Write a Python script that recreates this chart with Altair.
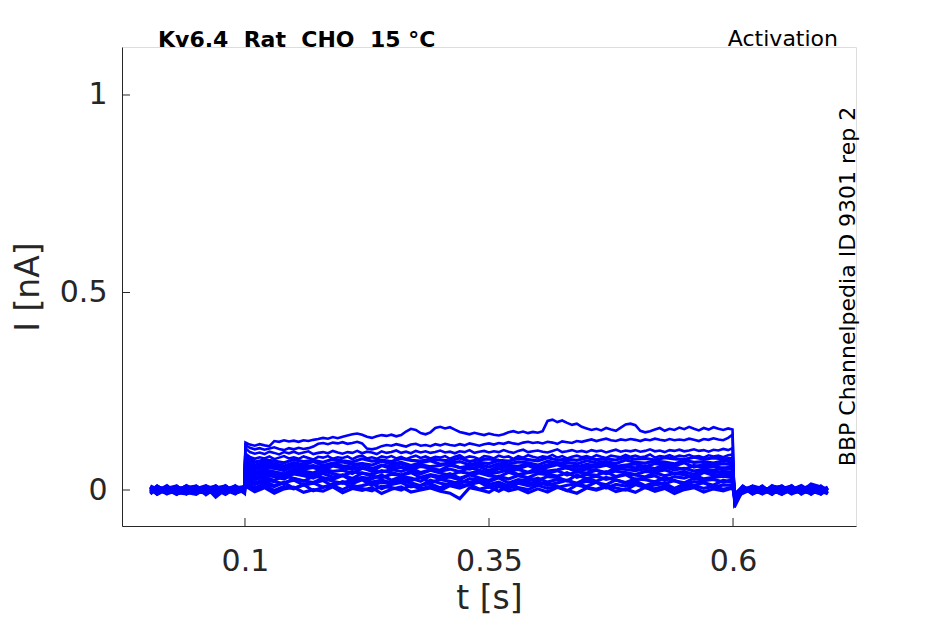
import altair as alt
import pandas as pd

# ---- time bases (s) ----
T_PRE = [0.003, 0.01, 0.02, 0.03, 0.04, 0.05, 0.06, 0.07, 0.08, 0.09, 0.0995]
T_STEP = [0.1005, 0.11, 0.12, 0.13, 0.14, 0.15, 0.16, 0.17, 0.18, 0.19,
          0.20, 0.21, 0.22, 0.23, 0.24, 0.25, 0.26, 0.27, 0.28, 0.29,
          0.30, 0.31, 0.32, 0.33, 0.34, 0.35, 0.36, 0.37, 0.38, 0.39,
          0.40, 0.41, 0.42, 0.43, 0.44, 0.45, 0.46, 0.47, 0.48, 0.49,
          0.50, 0.51, 0.52, 0.53, 0.54, 0.55, 0.56, 0.57, 0.58, 0.59,
          0.5995]
T_STEP_F = [0.1005, 0.105, 0.11, 0.115, 0.12, 0.125, 0.13, 0.135, 0.14, 0.145,
            0.15, 0.155, 0.16, 0.165, 0.17, 0.175, 0.18, 0.185, 0.19, 0.195,
            0.20, 0.205, 0.21, 0.215, 0.22, 0.225, 0.23, 0.235, 0.24, 0.245,
            0.25, 0.255, 0.26, 0.265, 0.27, 0.275, 0.28, 0.285, 0.29, 0.295,
            0.30, 0.305, 0.31, 0.315, 0.32, 0.325, 0.33, 0.335, 0.34, 0.345,
            0.35, 0.355, 0.36, 0.365, 0.37, 0.375, 0.38, 0.385, 0.39, 0.395,
            0.40, 0.405, 0.41, 0.415, 0.42, 0.425, 0.43, 0.435, 0.44, 0.445,
            0.45, 0.455, 0.46, 0.465, 0.47, 0.475, 0.48, 0.485, 0.49, 0.495,
            0.50, 0.505, 0.51, 0.515, 0.52, 0.525, 0.53, 0.535, 0.54, 0.545,
            0.55, 0.555, 0.56, 0.565, 0.57, 0.575, 0.58, 0.585, 0.59, 0.595,
            0.5995]
T_POST = [0.6015, 0.61, 0.62, 0.63, 0.64, 0.65, 0.66, 0.67, 0.68, 0.69, 0.697]

# ---- currents in pA (17 sweeps) ----
PRE_PA = [
    [6, -9, 4, -3, 8, -7, 2, 9, -5, 1, 7],
    [-7, 3, -10, 7, -1, 5, -8, 10, -4, 6, -6],
    [9, -5, 1, -11, 6, 10, -3, -7, 4, -9, 3],
    [-2, 10, -6, 5, -9, 3, 11, -5, 0, -10, 8],
    [1, -10, 7, 3, -6, 9, -12, 5, 10, -7, -2],
    [10, 2, -8, -4, 11, -2, 7, -10, 3, 9, -5],
    [-8, 6, 4, -10, 0, -6, 10, 2, -11, 5, 9],
    [3, -3, 11, -7, -10, 5, 1, -8, 7, -4, 10],
    [-5, 9, -2, 10, -6, -11, 4, 7, -3, 11, -8],
    [7, -11, 2, 1, 9, -5, -7, 10, -9, 3, 0],
    [-10, 5, -4, 7, 2, 10, -8, -2, 9, -6, 4],
    [0, 7, -9, -2, 10, -5, 8, -18, 2, 5, -7],
    [5, -7, 9, -10, -2, 6, 3, -5, 11, -8, 1],
    [-6, 1, 5, 11, -8, 2, -10, 7, -4, 10, 3],
    [8, -2, -7, 4, -11, 0, 6, -9, 10, -3, -5],
    [-3, 11, -5, -8, 5, 8, -6, 1, -10, 7, 2],
    [2, -8, 7, -5, 10, -10, 4, 11, -7, 0, -3],
]

# sweeps 1-13 (dense band), sampled on T_STEP
BAND_STEP_PA = [
    [10, -4, 6, -8, 3, 7, -6, 1, -3, 8,
     -7, 4, -1, 6, -9, 2, 8, -5, 0, 5,
     -3, -8, -22, 6, 1, -6, 9, -2, 4, -7,
     3, -5, 7, -1, -8, 5, 0, 8, -4, 2,
     -6, 7, -3, 4, -9, 1, 6, -5, 3, -2,
     5],
    [16, 0, 12, -1, 9, 3, 14, -2, 7, 11,
     1, 13, 4, -2, 10, 6, 0, 12, 3, 9,
     -1, 11, 5, 14, 2, 8, -3, 10, 6, 1,
     12, 4, 9, -2, 13, 7, 2, 11, 5, 0,
     14, 6, 3, 10, -1, 8, 12, 4, 9, 2,
     7],
    [22, 5, 16, 9, 19, 4, 13, 18, 7, 15,
     20, 6, 11, 17, 3, 14, 19, 8, 12, 16,
     5, 18, 10, 14, 20, 7, 13, 4, 17, 11,
     15, 19, 6, 12, 16, 9, 20, 5, 14, 10,
     18, 8, 13, 17, 4, 15, 11, 19, 7, 13,
     12],
    [28, 14, 22, 11, 19, 25, 13, 17, 24, 10,
     21, 16, 26, 12, 20, 15, 23, 18, 11, 25,
     17, 13, 22, 19, 26, 14, 20, 10, 24, 16,
     21, 12, 18, 25, 15, 22, 19, 13, 26, 17,
     23, 11, 20, 16, 24, 14, 21, 18, 12, 25,
     19],
    [34, 18, 27, 21, 16, 29, 23, 19, 30, 22,
     17, 26, 31, 20, 25, 18, 28, 24, 32, 19,
     27, 22, 16, 29, 25, 21, 31, 18, 26, 23,
     30, 20, 27, 24, 17, 29, 22, 32, 25, 19,
     28, 26, 21, 31, 23, 18, 30, 24, 27, 20,
     26],
    [40, 26, 33, 24, 36, 29, 22, 35, 31, 27,
     37, 23, 32, 28, 38, 25, 34, 30, 22, 36,
     29, 33, 26, 39, 31, 24, 35, 28, 37, 30,
     25, 34, 32, 23, 38, 29, 35, 27, 33, 39,
     26, 31, 36, 24, 34, 30, 38, 28, 32, 35,
     31],
    [47, 31, 39, 34, 28, 41, 36, 30, 42, 33,
     38, 29, 43, 35, 31, 40, 37, 44, 32, 39,
     34, 41, 30, 38, 43, 36, 33, 45, 37, 31,
     42, 39, 35, 44, 32, 40, 37, 46, 34, 41,
     38, 33, 44, 36, 42, 39, 31, 45, 37, 40,
     39],
    [53, 38, 45, 40, 35, 47, 42, 37, 48, 41,
     36, 46, 43, 39, 49, 44, 38, 47, 41, 50,
     43, 37, 46, 42, 48, 40, 45, 51, 39, 44,
     47, 42, 49, 38, 46, 43, 50, 41, 48, 44,
     39, 47, 45, 51, 42, 46, 40, 49, 44, 47,
     45],
    [59, 44, 51, 46, 41, 53, 48, 43, 54, 47,
     50, 42, 55, 49, 45, 52, 47, 56, 44, 51,
     48, 53, 46, 57, 50, 43, 54, 49, 52, 45,
     55, 48, 51, 57, 46, 53, 50, 44, 56, 52,
     49, 54, 47, 58, 51, 55, 48, 53, 50, 56,
     52],
    [65, 51, 58, 55, 49, 60, 53, 57, 48, 61,
     56, 52, 59, 47, 62, 54, 58, 51, 60, 55,
     50, 63, 57, 53, 59, 49, 61, 56, 54, 62,
     52, 58, 64, 55, 51, 60, 57, 63, 53, 59,
     56, 61, 54, 65, 58, 52, 62, 57, 60, 55,
     59],
    [72, 57, 63, 60, 55, 66, 59, 62, 56, 65,
     61, 58, 67, 54, 63, 60, 66, 57, 64, 59,
     62, 68, 56, 61, 65, 58, 67, 62, 60, 66,
     57, 64, 69, 61, 59, 65, 62, 68, 60, 63,
     66, 59, 67, 64, 61, 69, 58, 65, 63, 67,
     64],
    [79, 63, 70, 66, 61, 69, 64, 72, 62, 68,
     71, 65, 67, 63, 73, 66, 70, 62, 69, 74,
     65, 68, 72, 64, 70, 67, 75, 66, 71, 69,
     63, 73, 68, 70, 66, 74, 69, 72, 67, 76,
     70, 68, 73, 71, 66, 75, 70, 72, 68, 74,
     71],
    [86, 71, 76, 73, 69, 77, 72, 75, 70, 78,
     74, 71, 79, 73, 76, 72, 80, 75, 73, 78,
     76, 74, 81, 72, 77, 79, 75, 73, 80, 77,
     74, 82, 76, 78, 75, 81, 77, 79, 76, 83,
     78, 80, 76, 82, 79, 77, 83, 78, 81, 79,
     80],
]

# sweeps 14-17 (separated upper traces), sampled on T_STEP_F
TOP_STEP_PA = [
    [92, 84, 79, 83, 80, 85, 78, 82, 86, 80,
     83, 79, 85, 81, 77, 84, 82, 86, 79, 83,
     81, 85, 78, 84, 87, 80, 83, 79, 85, 82,
     86, 80, 84, 78, 83, 87, 81, 85, 80, 84,
     82, 86, 79, 84, 88, 81, 85, 83, 78, 86,
     84, 80, 87, 83, 85, 79, 86, 82, 88, 84,
     81, 85, 83, 89, 82, 86, 80, 84, 87, 83,
     86, 82, 88, 84, 81, 87, 85, 83, 89, 84,
     87, 83, 85, 90, 82, 86, 84, 88, 83, 87,
     85, 89, 84, 86, 82, 88, 85, 87, 83, 88,
     90],
    [106, 96, 92, 95, 91, 97, 94, 90, 96, 93,
     97, 92, 95, 98, 91, 94, 96, 93, 99, 95,
     92, 96, 94, 99, 93, 97, 95, 91, 98, 94,
     96, 100, 94, 97, 93, 99, 95, 98, 94, 96,
     100, 95, 97, 93, 98, 96, 101, 94, 97, 99,
     95, 98, 96, 101, 97, 94, 99, 102, 96, 98,
     100, 97, 95, 99, 103, 96, 98, 101, 97, 99,
     96, 101, 98, 100, 95, 99, 102, 97, 100, 98,
     101, 97, 99, 103, 98, 100, 96, 101, 99, 102,
     98, 100, 103, 99, 101, 97, 102, 100, 104, 101,
     106],
    [114, 107, 103, 106, 102, 105, 108, 104, 101, 106,
     103, 107, 104, 106, 110, 117, 119, 116, 120, 118,
     121, 117, 119, 122, 118, 105, 103, 106, 111, 114,
     112, 116, 113, 110, 115, 117, 112, 114, 111, 116,
     113, 117, 114, 112, 116, 113, 118, 115, 112, 116,
     118, 115, 119, 117, 121, 118, 116, 120, 122, 119,
     121, 118, 122, 120, 117, 123, 121, 119, 124, 122,
     125, 128, 124, 127, 130, 126, 124, 128, 126, 129,
     127, 124, 128, 126, 130, 127, 125, 129, 126, 128,
     126, 130, 127, 124, 129, 127, 131, 128, 126, 132,
     140],
    [120, 115, 112, 116, 113, 111, 124, 122, 126, 123,
     125, 122, 126, 124, 127, 129, 132, 130, 134, 131,
     135, 138, 141, 143, 140, 135, 132, 136, 139, 137,
     140, 136, 139, 148, 155, 152, 144, 141, 146, 157,
     160, 156, 159, 153, 147, 144, 141, 145, 142, 139,
     143, 140, 138, 141, 146, 149, 145, 148, 144, 147,
     145, 149, 175, 178, 172, 176, 170, 165, 168, 160,
     156, 152, 155, 151, 157, 153, 150, 158, 166, 168,
     164, 150, 146, 149, 153, 157, 150, 155, 152, 158,
     154, 160, 155, 151, 157, 153, 159, 155, 152, 156,
     153],
]

POST_PA = [
    [-10, 7, -5, 9, -8, 3, 10, -6, 1, 5, -9],
    [-12, 2, 9, -7, 4, -10, 0, 7, -3, -9, 5],
    [-9, -5, 6, 2, -11, 8, -2, 4, 10, -7, 0],
    [-14, 9, -8, 0, 6, -4, 11, -10, 3, -2, 7],
    [-11, 0, 5, -10, 2, 10, -6, -3, 8, -5, -8],
    [-15, -6, 10, 4, -3, -8, 2, 9, -11, 6, 3],
    [-13, 5, -2, -9, 11, 1, -5, 6, -7, 10, -2],
    [-17, -8, 3, 7, -4, 5, -10, 0, 8, -6, 4],
    [-14, 10, -6, 2, 0, -11, 6, -4, 15, 8, -8],
    [-19, -3, 1, -5, 9, 6, -8, 10, -2, -10, 6],
    [-16, 6, -10, 4, -7, 2, 8, -9, 11, 0, -4],
    [-22, -4, 8, -2, 5, -6, 1, 11, -5, 3, -10],
    [-18, 2, -5, 10, -10, 8, -2, -7, 6, -8, 4],
    [-26, 8, -11, 0, 6, -3, 10, -4, -9, 4, 2],
    [-30, -6, 4, -8, 3, 11, -5, 2, -10, 6, -2],
    [-36, 4, -7, 6, -4, -9, 8, -2, 5, -11, 0],
    [-44, -2, 10, -4, -8, 5, -6, 9, 0, -3, 7],
]

X_TICKS = [0.1, 0.35, 0.6]
Y_TICKS = [0, 0.5, 1]
TITLE_TEXT = "Kv6.4\u00a0\u00a0Rat\u00a0\u00a0CHO\u00a0\u00a015\u00a0°C"
PROTOCOL_TEXT = "Activation"
SOURCE_TEXT = "BBP Channelpedia ID 9301 rep 2"

# ---- long table ----
rows = []
step_sets = [(T_STEP, s) for s in BAND_STEP_PA] + [(T_STEP_F, s) for s in TOP_STEP_PA]
n_band = len(BAND_STEP_PA)
for k, (tstep, svals) in enumerate(step_sets):
    pts = list(zip(T_PRE, PRE_PA[k])) + list(zip(tstep, svals)) + list(zip(T_POST, POST_PA[k]))
    for t, v in pts:
        rows.append({"trace": k, "group": "band" if k < n_band else "top",
                     "t": t, "I": v / 1000.0})  # pA -> nA
df = pd.DataFrame(rows)
df_band = df[df["group"] == "band"]
df_top = df[df["group"] == "top"]

W, H = 734, 479
FONT = "DejaVu Sans"
INK = "#262626"

xscale = alt.Scale(domain=[-0.026, 0.726], nice=False, zero=False)
yscale = alt.Scale(domain=[-0.0911, 1.1215], nice=False, zero=False)

x_enc = alt.X("t:Q", scale=xscale,
              axis=alt.Axis(values=X_TICKS, format="~g", title="t [s]", grid=False,
                            tickSize=0, labelPadding=20, titlePadding=6,
                            labelFontSize=30, titleFontSize=33, labelFont=FONT,
                            titleFont=FONT, titleFontWeight="normal",
                            labelColor=INK, titleColor=INK, domainColor=INK,
                            domainWidth=1))
y_enc = alt.Y("I:Q", scale=yscale,
              axis=alt.Axis(values=Y_TICKS, format="~g", title="I [nA]", grid=False,
                            tickSize=0, labelPadding=15, titlePadding=14,
                            labelFontSize=30, titleFontSize=33, labelFont=FONT,
                            titleFont=FONT, titleFontWeight="normal",
                            labelColor=INK, titleColor=INK, domainColor=INK,
                            domainWidth=1))

band_lines = alt.Chart(df_band).mark_line(color="#0000ff", strokeWidth=3.2, clip=True).encode(
    x=x_enc, y=y_enc, detail="trace:N", order="t:Q")
top_lines = alt.Chart(df_top).mark_line(color="#0000ff", strokeWidth=2.6, clip=True).encode(
    x=alt.X("t:Q", scale=xscale), y=alt.Y("I:Q", scale=yscale),
    detail="trace:N", order="t:Q")

xt = alt.Chart(pd.DataFrame({"v": X_TICKS})).mark_rule(color=INK, strokeWidth=1).encode(
    x=alt.X("v:Q", scale=xscale), y=alt.value(H), y2=alt.value(H - 8))
yt = alt.Chart(pd.DataFrame({"v": Y_TICKS})).mark_rule(color=INK, strokeWidth=1).encode(
    y=alt.Y("v:Q", scale=yscale), x=alt.value(0), x2=alt.value(8))

title_txt = alt.Chart(pd.DataFrame({"s": [TITLE_TEXT]})).mark_text(
    font=FONT, fontSize=22, fontWeight="bold", color="black", align="left",
    baseline="alphabetic").encode(x=alt.value(36), y=alt.value(0), text="s:N")
prot_txt = alt.Chart(pd.DataFrame({"s": [PROTOCOL_TEXT]})).mark_text(
    font=FONT, fontSize=22, color="black", align="right",
    baseline="alphabetic").encode(x=alt.value(716), y=alt.value(-1), text="s:N")
src_txt = alt.Chart(pd.DataFrame({"s": [SOURCE_TEXT]})).mark_text(
    font=FONT, fontSize=22, color="black", align="center", angle=270,
    baseline="alphabetic").encode(x=alt.value(733), y=alt.value(H / 2), text="s:N")

chart = alt.layer(band_lines, top_lines, xt, yt, title_txt, prot_txt, src_txt).properties(
    width=W, height=H,
    padding={"left": 114, "top": 39, "right": 70, "bottom": 90},
    autosize=alt.AutoSizeParams(type="none"),
).configure_view(stroke=None).configure(background="white")

chart.save("out.html", embed_options={"renderer": "svg", "actions": False})
